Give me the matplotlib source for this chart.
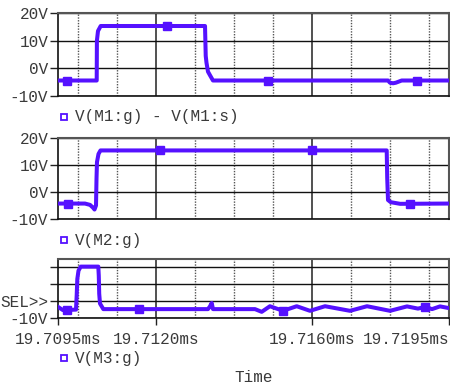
import matplotlib.pyplot as plt
from matplotlib.lines import Line2D

plt.rcParams['font.family'] = ['Liberation Mono', 'DejaVu Sans Mono']

# time in ms, voltage in V
t_m1 = [19.709500, 19.710490, 19.710495, 19.710523, 19.710592, 19.713260, 19.713278,
        19.713298, 19.713336, 19.713387, 19.713464, 19.717940, 19.717990, 19.718070,
        19.718140, 19.718290, 19.719500]
v_m1 = [-4.4, -4.4, 10, 13.5, 15.3, 15.3, 4.5, 2, -1.2, -2.5, -4.4, -4.4, -5.2, -5.4,
        -5.2, -4.4, -4.4]
mk_t_m1 = [19.709730, 19.712290, 19.714870, 19.718670]
mk_v_m1 = [-4.4, 15.3, -4.4, -4.4]

t_m2 = [19.709500, 19.710190, 19.710320, 19.710395, 19.710434, 19.710472, 19.710485,
        19.710497, 19.710536, 19.710587, 19.717907, 19.717920, 19.717940, 19.718010,
        19.718250, 19.719500]
v_m2 = [-4.3, -4.3, -4.8, -5.8, -6.5, -5, 5, 11, 14, 15.3, 15.3, 5, -3, -3.8, -4.4, -4.3]
mk_t_m2 = [19.709756, 19.712110, 19.715990, 19.718500]
mk_v_m2 = [-4.3, 15.3, 15.3, -4.3]

t_m3 = [19.709500, 19.709628, 19.709960, 19.709978, 19.709994, 19.710024, 19.710081,
        19.710531, 19.710543, 19.710554, 19.710574, 19.710659, 19.713336, 19.713387,
        19.713431, 19.713464, 19.714538, 19.714710, 19.714920, 19.715254, 19.715605,
        19.715945, 19.716329, 19.716968, 19.717403, 19.717991, 19.718426, 19.718707,
        19.718886, 19.719065, 19.719270, 19.719500]
v_m3 = [-3.3, -5.2, -4.9, 3.5, 13.1, 18, 20.4, 20.4, 15, 4.5, -1.3, -4.6, -4.6, -3,
        -1, -4.6, -4.6, -6.2, -2.9, -5.6, -2.9, -5.6, -2.9, -5.6, -2.9, -5.6, -3.0,
        -4.3, -3.3, -4.6, -3.0, -4.0]
mk_t_m3 = [19.709730, 19.711579, 19.715254, 19.718886]
mk_v_m3 = [-4.9, -4.6, -5.6, -3.3]

legends = ["V(M1:g) - V(M1:s)", "V(M2:g)", "V(M3:g)"]
x_major = [19.7095, 19.7120, 19.7160, 19.7195]
x_labels = ["19.7095ms", "19.7120ms", "19.7160ms", "19.7195ms"]
x_minor = [19.7100, 19.7110, 19.7130, 19.7140, 19.7150, 19.7170, 19.7180, 19.7190]
y_ticks = [-10, 0, 10, 20]
y_labels = ["-10V", "0V", "10V", "20V"]
y_labels_sel = ["-10V", "SEL>>", "", ""]

COL = '#5511ff'
TXT = '#3a3a3a'
W, H = 450, 387
fig = plt.figure(figsize=(4.5, 3.87), dpi=100)


def box(l, t, r, b):
    return [l / W, 1 - b / H, (r - l) / W, (b - t) / H]


boxes = [box(58, 13, 449, 96), box(58, 137.7, 449, 219), box(58, 259.3, 449, 318.3)]
data = [(t_m1, v_m1, mk_t_m1, mk_v_m1), (t_m2, v_m2, mk_t_m2, mk_v_m2),
        (t_m3, v_m3, mk_t_m3, mk_v_m3)]
leg_y = [117, 240, 358]

for i in range(3):
    ax = fig.add_axes(boxes[i])
    t, v, mt, mv = data[i]
    ax.plot(t, v, color=COL, lw=2.9, solid_joinstyle='round', zorder=3)
    ax.plot(mt, mv, ls='none', marker='s', ms=6, color=COL, zorder=4)
    ax.set_xlim(19.7095, 19.7195)
    ax.set_ylim(-10, 24.7 if i == 2 else 20)

    ax.set_xticks(x_major)
    ax.set_xticks(x_minor, minor=True)
    ax.set_yticks(y_ticks)
    ax.set_yticklabels(y_labels_sel if i == 2 else y_labels, color=TXT, fontsize=11.5)
    ax.tick_params(axis='y', length=6, width=1, pad=1, color='#222222')
    ax.tick_params(axis='x', which='minor', length=0)
    if i == 2:
        ax.set_xticklabels(x_labels, color=TXT, fontsize=11.5)
        ax.get_xticklabels()[-1].set_horizontalalignment('right')
        ax.tick_params(axis='x', which='major', length=5, width=1, pad=5, color='#222222')
    else:
        ax.set_xticklabels([])
        ax.tick_params(axis='x', which='major', length=0)

    for x in x_minor:
        ax.axvline(x, color='#555555', lw=1, ls=(0, (1, 1)), zorder=1)
    for x in x_major[1:3]:
        ax.axvline(x, color='#333333', lw=1.2, zorder=1)
    for y in y_ticks:
        ax.axhline(y, color='#111111', lw=1, zorder=1)
    for s in ['left', 'bottom']:
        ax.spines[s].set_color('#111111')
        ax.spines[s].set_linewidth(1.2)
    for s in ['top', 'right']:
        ax.spines[s].set_color('#555555')
        ax.spines[s].set_linewidth(1.5)

    # legend entry under each panel
    yl = 1 - leg_y[i] / H
    fig.add_artist(Line2D([64 / W], [yl], marker='s', ms=5, mfc='white', mec=COL,
                          mew=1.3, ls='none', transform=fig.transFigure))
    fig.text(75 / W, yl, legends[i], color=TXT, fontsize=11.5, va='center', ha='left')

fig.text(254 / W, 1 - 378 / H, "Time", color=TXT, fontsize=11.5, va='center', ha='center')

fig.savefig('out.png', dpi=100)
